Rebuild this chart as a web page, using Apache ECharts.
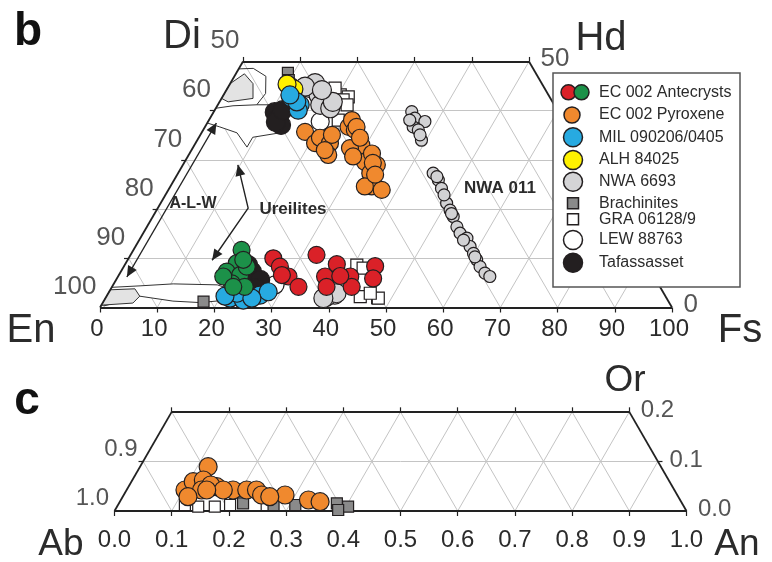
<!DOCTYPE html>
<html><head><meta charset="utf-8">
<script src="https://cdn.jsdelivr.net/npm/echarts@6/dist/echarts.min.js"></script>
<style>html,body{margin:0;padding:0;background:#fff}#c{width:772px;height:562px}</style>
</head><body><div id="c"></div>
<script>
// ---------- Panel b data: [Fs, Wo] (mol %) ----------
const antecrystsRed = [[25.3,10.0],[27.3,8.3],[29.8,6.3],[32.6,4.2],[28.5,6.6],[32.5,10.7],[37.0,8.8],[36.2,6.3],[37.5,4.2],[40.6,6.3],[41.9,4.2],[43.9,8.4],[44.8,5.9],[38.8,6.4]];
const antecrystsGreen = [[18.9,11.7],[19.4,9.0],[18.5,7.3],[21.2,6.6],[20.6,4.9],[23.2,4.2],[18.4,6.3],[21.5,8.3],[21.2,4.2],[20.2,9.7]];
const ec002Pyroxene = [[18.0,35.7],[20.9,33.4],[21.2,34.5],[23.5,33.4],[24.4,31.0],[23.0,35.1],[25.1,36.7],[25.0,38.1],[26.5,36.1],[29.2,33.0],[27.5,32.4],[31.5,29.6],[33.9,29.0],[28.9,30.7],[31.9,31.3],[33.6,27.3],[35.2,24.6],[37.3,23.9],[34.0,24.6],[26.5,36.7],[33.0,29.4],[23.3,32.0],[28.2,34.5],[34.6,27.0]];
const mil090206 = [[12.3,42.5],[14.4,41.2],[14.6,40.1],[13.5,41.8],[11.6,43.2],[21.8,1.9],[24.3,1.5],[26.7,2.5],[27.8,3.2],[22.5,2.9],[25.6,1.9],[20.7,2.3]];
const alh84025 = [[10.7,45.0],[11.7,44.4],[10.0,45.4]];
const nwa6693 = [[14.4,44.6],[16.6,43.2],[17.9,41.2],[20.0,40.5],[14.8,45.6],[13.4,44.9],[19.8,41.8],[16.7,44.2],[38.5,2.2],[39.9,2.9],[38.1,1.9]];
const brachinites = [[9.0,47.7],[9.9,46.2],[17.5,1.2],[47.5,1.9]];
const gra06128 = [[18.3,43.9],[20.4,43.2],[20.5,41.8],[22.0,42.8],[22.6,38.1],[18.8,44.6],[21.4,42.2],[22.6,41.2],[40.6,8.6],[44.4,2.2],[47.7,1.9],[45.8,2.9],[38.4,6.6],[42.0,8.0]];
const lew88763 = [[28.3,4.6],[39.8,2.5],[19.6,37.8],[18.2,42.2]];
const tafassasset = [[10.7,39.7],[12.0,38.5],[13.1,37.1],[11.9,37.7],[11.9,40.1],[22.9,7.3],[25.2,5.6],[25.4,3.9],[21.6,8.6]];
const nwa011 = [[34.6,39.8],[35.8,38.5],[37.9,37.8],[36.4,36.7],[37.6,36.1],[39.2,34.0],[35.1,38.1],[38.4,35.1],[44.6,27.3],[46.2,25.9],[47.6,24.2],[50.0,21.2],[51.3,19.8],[52.5,18.5],[54.2,16.4],[55.4,15.1],[57.1,14.1],[58.5,12.4],[59.8,11.0],[61.0,9.7],[62.3,8.3],[63.8,7.0],[65.0,6.3],[51.9,19.1],[56.7,13.7],[60.4,10.3],[45.6,26.6],[48.7,22.9]];

// ---------- Panel c data: [An, Or] ----------
const ec002Feldspar = [[0.119,0.0894],[0.102,0.0424],[0.108,0.0591],[0.124,0.0626],[0.154,0.049],[0.186,0.0424],[0.210,0.0424],[0.227,0.0424],[0.241,0.0323],[0.282,0.0323],[0.328,0.0222],[0.350,0.0188],[0.131,0.0424],[0.142,0.0525],[0.169,0.0424],[0.257,0.0289],[0.114,0.0289],[0.140,0.0424]];
const brachinitesFsp = [[0.217,0.0155],[0.272,0.0121],[0.310,0.0121],[0.381,0.0155],[0.404,0.0087],[0.390,0.002]];
const graFsp = [[0.171,0.0087],[0.117,0.0121],[0.142,0.0087],[0.196,0.0121],[0.260,0.0121]];

// ---------- Tick labels ----------
const fsTicks = [0,10,20,30,40,50,60,70,80,90,100];
const enLabels = [50,60,70,80,90,100];
const woRightLabels = [50,0];
const woGrid = [10,20,30,40];
const anTicks = [0,0.1,0.2,0.3,0.4,0.5,0.6,0.7,0.8,0.9,1.0];
const abLabels = ['0.9','1.0'];
const orLabels = ['0.2','0.1','0.0'];

// ---------- Field outlines [Fs, Wo] ----------
const alwFill = [[0,45.5],[1.5,47.5],[4,45.5],[5.5,42.5],[1.5,41.8],[0,42.5]];
const alwOutline = [[0,48.5],[2.5,48.6],[5.5,47],[7.2,43.5],[6.8,41.2]];
const ureiliteUpper = [[0,40.5],[2.75,41],[6.8,41.2],[9.1,41.2],[12.5,38],[13.7,35.5],[9.4,34.6],[9.4,32.6],[6.2,35.5],[2.6,36.7],[0,37.5]];
const enFill = [[0,3.6],[4.2,3.8],[5.8,2.3],[5.3,0.9],[0.3,0.5],[0,0.3]];
const enOutline = [[0,4.1],[4.8,4.4],[10.4,4.8],[18.2,4.6],[21.3,3.6],[21.4,1.5],[17,1.0],[12.1,1.3],[5.8,2.3],[0.5,0.3]];
const arrowsB = [ {path:[[1.6,6.2],[1.6,37.5]]}, {path:[[9.6,29],[15.8,20.2],[14.8,9.6]]} ];

const SQ = Math.sqrt(3)/2;
function tb(p){ return [p[0] + p[1]/2, p[1]*SQ]; }
const FONT = '"Liberation Sans", Arial, Helvetica, sans-serif';
const INK = '#231f20';
const TXT = '#2b2b2b';

// grid segments panel b
const gridB = [];
woGrid.forEach(w => gridB.push([[0,w],[100-w,w]]));
fsTicks.slice(1,-1).forEach(f => gridB.push([[f,0],[f,Math.min(50,100-f)]]));
fsTicks.slice(1,-1).forEach(e => { const w = Math.min(50,100-e); gridB.push([[100-e,0],[100-e-w,w]]); });
const edgesB = [[[0,0],[100,0]],[[0,0],[0,50]],[[0,50],[50,50]],[[100,0],[50,50]]];
const ticksB = [];
[0,10,20,30,40,50].forEach(f => { const p = tb([f,50]); ticksB.push([p,[p[0],p[1]+0.8]]); });
woGrid.forEach(w => { const p = tb([0,w]); ticksB.push([p,[p[0]-0.8,p[1]]]); });

// grid segments panel c
const gridC = [];
gridC.push([[0,0.1],[0.9,0.1]]);
anTicks.slice(1,-1).forEach(a => gridC.push([[a,0],[a,Math.min(0.2,1-a)]]));
anTicks.slice(1,-1).forEach(b => { const o = Math.min(0.2,1-b); gridC.push([[1-b,0],[1-b-o,o]]); });
const edgesC = [[[0,0],[1,0]],[[0,0],[0,0.2]],[[0,0.2],[0.8,0.2]],[[1,0],[0.8,0.2]]];
const ticksC = [];
anTicks.slice(0,9).forEach(a => { const p = tb([a,0.2]); ticksC.push([p,[p[0],p[1]+0.008]]); });
{ const p = tb([0,0.1]); ticksC.push([p,[p[0]-0.008,p[1]]]); const q = tb([0.9,0.1]); ticksC.push([q,[q[0]+0.008,q[1]]]); }

function linesSeries(segs, conv, idx, color, width){
  return {type:'lines', coordinateSystem:'cartesian2d', xAxisIndex:idx, yAxisIndex:idx, silent:true, clip:false,
    polyline:false, lineStyle:{color:color, width:width, opacity:1},
    data: segs.map(s => ({coords: s.map(conv)}))};
}
const idt = p => p;
function scat(data, idx, color, symbol, size, name){
  return {type:'scatter', name:name, xAxisIndex:idx, yAxisIndex:idx, silent:true, symbol:symbol, symbolSize:size,
    itemStyle:{color:color, borderColor:INK, borderWidth:1.2, opacity:1}, data:data.map(tb)};
}
function labelSeries(items, idx, pos, align, size){
  return {type:'scatter', xAxisIndex:idx, yAxisIndex:idx, silent:true, symbolSize:1, itemStyle:{color:'rgba(0,0,0,0)'},
    label:{show:true, position:pos, align:align, verticalAlign:'middle', fontSize:size, fontFamily:FONT, color:TXT,
      formatter: p => p.data[2]},
    data: items};
}

const option = {
  animation:false,
  backgroundColor:'#fff',
  grid:[
    {left:100, top:61.5, width:572, height:246, containLabel:false, outerBoundsMode:'none'},
    {left:114.5, top:411.9, width:572, height:99.1, containLabel:false, outerBoundsMode:'none'}
  ],
  xAxis:[
    {gridIndex:0, type:'value', min:0, max:100, interval:10, splitLine:{show:false}, axisLine:{show:false},
     axisTick:{show:true, length:5, lineStyle:{color:'#222', width:1.2}},
     axisLabel:{show:true, margin:10, fontSize:24, fontFamily:FONT, color:TXT, showMinLabel:true, showMaxLabel:true, padding:[0,6,0,0]}},
    {gridIndex:1, type:'value', min:0, max:1, interval:0.1, splitLine:{show:false}, axisLine:{show:false},
     axisTick:{show:true, length:5, lineStyle:{color:'#222', width:1.2}},
     axisLabel:{show:true, margin:17, fontSize:24, fontFamily:FONT, color:TXT, showMinLabel:true, showMaxLabel:true,
       formatter: v => v.toFixed(1)}}
  ],
  yAxis:[
    {gridIndex:0, type:'value', min:0, max:50*SQ, show:false},
    {gridIndex:1, type:'value', min:0, max:0.2*SQ, show:false}
  ],
  series:[
    linesSeries(gridB, tb, 0, '#c4c4c4', 1),
    linesSeries(gridC, tb, 1, '#c4c4c4', 1),
    {type:'custom', xAxisIndex:0, yAxisIndex:0, silent:true, data:[[0,0]],
     renderItem:function(params, api){
       const P = arr => arr.map(p => api.coord(tb(p)));
       return {type:'group', children:[
         {type:'polygon', shape:{points:P(ureiliteUpper)}, style:{fill:'#fff', stroke:'#333', lineWidth:1}},
         {type:'polyline', shape:{points:P(alwOutline)}, style:{fill:null, stroke:'#333', lineWidth:1}},
         {type:'polygon', shape:{points:P(alwFill)}, style:{fill:'#e3e3e3', stroke:'#333', lineWidth:1}},
         {type:'polygon', shape:{points:P(enOutline)}, style:{fill:'#fff', stroke:'#333', lineWidth:1}},
         {type:'polygon', shape:{points:P(enFill)}, style:{fill:'#e3e3e3', stroke:'#333', lineWidth:1}}
       ]};
     }},
    linesSeries(edgesB, tb, 0, '#222', 1.8),
    linesSeries(ticksB, idt, 0, '#222', 1.2),
    linesSeries(edgesC, tb, 1, '#222', 1.8),
    linesSeries(ticksC, idt, 1, '#222', 1.2),
    {type:'custom', xAxisIndex:0, yAxisIndex:0, silent:true, data:[[0,0]],
     renderItem:function(params, api){
       const ch = [];
       function head(a, b){ // tip at b, coming from a
         const dx=b[0]-a[0], dy=b[1]-a[1], L=Math.hypot(dx,dy), ux=dx/L, uy=dy/L, len=11, hw=5;
         const bx=b[0]-ux*len, by=b[1]-uy*len;
         ch.push({type:'polygon', shape:{points:[[b[0],b[1]],[bx-uy*hw,by+ux*hw],[bx+uy*hw,by-ux*hw]]}, style:{fill:'#222'}});
       }
       arrowsB.forEach(ar => {
         const pts = ar.path.map(p => api.coord(tb(p)));
         ch.push({type:'polyline', shape:{points:pts}, style:{fill:null, stroke:'#222', lineWidth:1.4}});
         head(pts[1], pts[0]); head(pts[pts.length-2], pts[pts.length-1]);
       });
       return {type:'group', children:ch};
     }},
    labelSeries(enLabels.map(e => tb([0,100-e]).concat([String(e)])), 0, [-3,-20], 'right', 26),
    labelSeries(woRightLabels.map(w => tb([100-w,w]).concat([String(w)])), 0, [12,-2], 'left', 26),
    labelSeries(abLabels.map(a => tb([0,1-parseFloat(a)]).concat([a])), 1, [-5,-12], 'right', 24),
    labelSeries(orLabels.map(o => tb([1-parseFloat(o),parseFloat(o)]).concat([o])), 1, [12,-1], 'left', 24),
    scat(nwa011, 0, '#d2d2d4', 'circle', 12, 'NWA 011'),
    scat(brachinites, 0, '#8a8a8a', 'rect', 11, 'Brachinites'),
    scat(gra06128, 0, '#ffffff', 'rect', 12, 'GRA 06128/9'),
    scat(lew88763, 0, '#ffffff', 'circle', 18, 'LEW 88763'),
    scat(nwa6693, 0, '#d4d4d6', 'circle', 19, 'NWA 6693'),
    scat(tafassasset, 0, '#231f20', 'circle', 19, 'Tafassasset'),
    scat(alh84025, 0, '#fff200', 'circle', 18, 'ALH 84025'),
    scat(mil090206, 0, '#27aae1', 'circle', 18, 'MIL 090206/0405'),
    scat(ec002Pyroxene, 0, '#f0892e', 'circle', 17, 'EC 002 Pyroxene'),
    scat(antecrystsRed, 0, '#da2128', 'circle', 17, 'EC 002 Antecrysts'),
    scat(antecrystsGreen, 0, '#1c9149', 'circle', 17, 'EC 002 Antecrysts'),
    scat(graFsp, 1, '#ffffff', 'rect', 11, 'GRA 06128/9'),
    scat(brachinitesFsp, 1, '#8a8a8a', 'rect', 11, 'Brachinites'),
    scat(ec002Feldspar, 1, '#f0892e', 'circle', 18, 'EC 002 Feldspar')
  ],
  graphic:{elements:[]}
};

// ---------- titles / annotations ----------
const G = option.graphic.elements;
function txt(t, x, y, size, bold, color, align){
  G.push({type:'text', x:x, y:y, z:100, silent:true,
    style:{text:t, font:(bold?'bold ':'')+size+'px '+FONT, fill:color||TXT, align:align||'center', verticalAlign:'middle'}});
}
txt('b', 28, 32, 46, true, '#111');
txt('c', 27, 401, 46, true, '#111');
txt('Di', 182, 37, 40, false);
txt('Hd', 601, 39, 40, false);
txt('En', 31, 331, 40, false);
txt('Fs', 740, 331, 40, false);
txt('Or', 625, 381, 37, false);
txt('Ab', 61, 545, 37, false);
txt('An', 737, 545, 37, false);
txt('A-L-W', 193, 204, 16, true);
txt('Ureilites', 293, 209, 17, true);
txt('NWA 011', 500, 188, 17, true);

// ---------- legend ----------
const legendLabels = ['EC 002 Antecrysts','EC 002 Pyroxene','MIL 090206/0405','ALH 84025','NWA 6693','Brachinites','GRA 06128/9','LEW 88763','Tafassasset'];
const legendRows = [92.3,115,137.3,160,181.7,203.3,219.3,240,262.7];
G.push({type:'rect', z:100, silent:true, shape:{x:553, y:73, width:187, height:214}, style:{fill:'#fff', stroke:'#555', lineWidth:1.5}});
function lc(cx, cy, r, fill){ G.push({type:'circle', z:101, silent:true, shape:{cx:cx, cy:cy, r:r}, style:{fill:fill, stroke:INK, lineWidth:1.5}}); }
function ls(cx, cy, s, fill){ G.push({type:'rect', z:101, silent:true, shape:{x:cx-s/2, y:cy-s/2, width:s, height:s}, style:{fill:fill, stroke:INK, lineWidth:1.5}}); }
lc(568.5, legendRows[0], 7.5, '#da2128'); lc(581.5, legendRows[0], 7.5, '#1c9149');
lc(572, legendRows[1], 8, '#f0892e');
lc(573, legendRows[2], 9.5, '#27aae1');
lc(573, legendRows[3], 9.5, '#fff200');
lc(573, legendRows[4], 9.5, '#d4d4d6');
ls(573, legendRows[5], 11, '#8a8a8a');
ls(573, legendRows[6], 11, '#ffffff');
lc(573, legendRows[7], 9.5, '#ffffff');
lc(573, legendRows[8], 9.5, '#231f20');
legendLabels.forEach((t,i) => G.push({type:'text', z:101, silent:true, x:599, y:legendRows[i],
  style:{text:t, font:'16px '+FONT, fill:TXT, align:'left', verticalAlign:'middle'}}));

const chart = echarts.init(document.getElementById('c'), null, {renderer:'canvas'});
chart.setOption(option);
</script></body></html>
